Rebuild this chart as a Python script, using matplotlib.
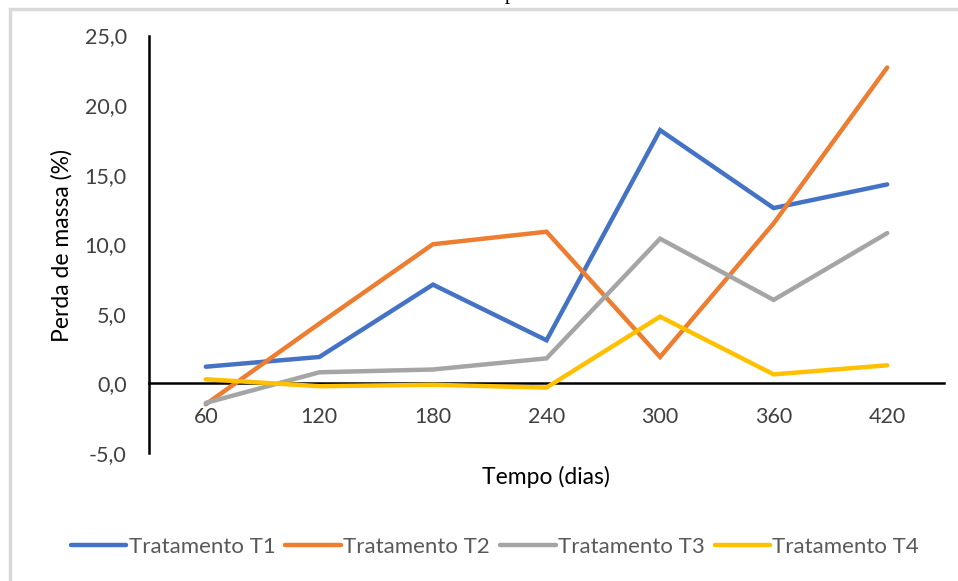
import matplotlib.pyplot as plt
from matplotlib.patches import Rectangle

dias = ["60", "120", "180", "240", "300", "360", "420"]
t1 = [1.2, 1.9, 7.1, 3.1, 18.2, 12.6, 14.3]
t2 = [-1.5, 4.3, 10.0, 10.9, 1.9, 11.5, 22.7]
t3 = [-1.4, 0.8, 1.0, 1.8, 10.4, 6.0, 10.8]
t4 = [0.3, -0.2, -0.1, -0.3, 4.8, 0.65, 1.3]
yticks = [-5, 0, 5, 10, 15, 20, 25]

series = [
    ("Tratamento T1", t1, "#4472C4"),
    ("Tratamento T2", t2, "#ED7D31"),
    ("Tratamento T3", t3, "#A5A5A5"),
    ("Tratamento T4", t4, "#FFC000"),
]

plt.rcParams['font.family'] = ['Lato', 'DejaVu Sans']

W, H = 958, 581
fig = plt.figure(figsize=(W / 100, H / 100), dpi=100)

# moldura do gráfico (cortada à direita e em baixo)
fig.patches.append(Rectangle((9.5 / W, -0.1), 1.2, 1 - 8.5 / H + 0.1,
                             transform=fig.transFigure, fill=False,
                             edgecolor="#D9D9D9", linewidth=2.5))
# pedaço do título cortado no topo
fig.text(505 / W, 1 + 0.5 / H, "p", family="Liberation Serif", fontsize=15,
         ha="left", va="baseline", color="black")

ax = fig.add_axes([149 / W, 1 - 453 / H, (944 - 149) / W, (453 - 35.5) / H])

x = range(len(dias))
for nome, vals, cor in series:
    ax.plot(x, vals, color=cor, linewidth=3.2, label=nome,
            solid_joinstyle="miter", solid_capstyle="round")

ax.set_xlim(-0.5, len(dias) - 0.5)
ax.set_ylim(-5, 25)
ax.set_yticks(yticks)
ax.set_yticklabels([f"{v:.1f}".replace(".", ",") for v in yticks])
ax.set_xticks(list(x))
ax.set_xticklabels(dias)

for s in ["top", "right"]:
    ax.spines[s].set_visible(False)
ax.spines["bottom"].set_position(("data", 0))
ax.spines["bottom"].set_linewidth(1.8)
ax.spines["left"].set_linewidth(1.8)
ax.spines["bottom"].set_zorder(1)
ax.tick_params(axis="both", length=0, labelsize=15.5, colors="#404040")
ax.tick_params(axis="x", pad=17)
ax.tick_params(axis="y", pad=16)

fig.text(62 / W, 1 - 246 / H, "Perda de massa (%)", fontsize=16.5,
         rotation=90, ha="center", va="center", color="black")
fig.text(546 / W, 1 - 477 / H, "Tempo (dias)", fontsize=16.5,
         ha="center", va="center", color="black")

leg = fig.legend(loc="center", bbox_to_anchor=(495 / W, 1 - 547 / H), ncol=4,
                 frameon=False, fontsize=16, handlelength=2.5,
                 handletextpad=0.1, columnspacing=0.45)
for t in leg.get_texts():
    t.set_color("#595959")

fig.savefig("out.png", dpi=100)
